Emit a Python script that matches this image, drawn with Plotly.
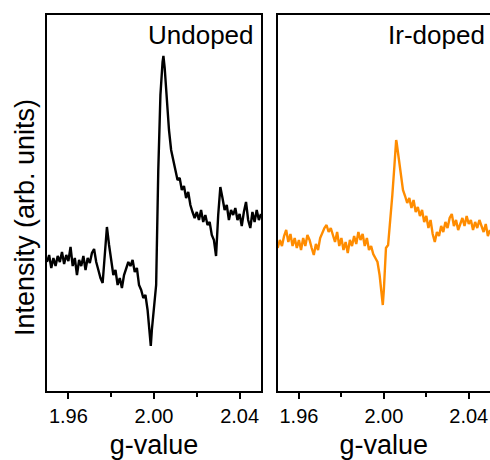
import numpy as np
import plotly.graph_objects as go

# g-value grid (0.001 steps) plus a couple of extra samples at the sharp extrema
g_grid = [round(1.95 + 0.001 * k, 3) for k in range(101)]
g_extra_undoped = [1.9985, 2.0044]
g_extra_irdoped = [1.9995, 2.0058]

# EPR intensity on the uniform grid (arb. units)
undoped_grid = [
    138, 145, 132, 142, 134, 144, 138, 148, 136, 145,
    139, 153, 134, 142, 125, 140, 134, 144, 130, 142,
    137, 147, 151, 138, 130, 122, 117, 150, 173, 155,
    138, 125, 130, 115, 122, 112, 125, 132, 138, 134,
    140, 128, 132, 115, 110, 102, 105, 90, 65, 70,
    95, 115, 230, 305, 338, 332, 300, 270, 250, 240,
    232, 220, 222, 210, 214, 202, 208, 195, 188, 182,
    188, 180, 190, 178, 185, 175, 178, 165, 160, 144,
    185, 213, 202, 190, 195, 180, 190, 185, 192, 180,
    186, 174, 188, 198, 180, 172, 188, 178, 190, 180,
    186,
]
undoped_extra = [54, 344]

irdoped_grid = [
    152, 160, 154, 164, 170, 158, 166, 154, 162, 152,
    160, 150, 162, 154, 165, 160, 152, 145, 156, 150,
    162, 168, 172, 175, 168, 172, 164, 158, 168, 154,
    162, 150, 158, 147, 160, 154, 164, 156, 168, 160,
    166, 154, 162, 150, 154, 146, 142, 138, 125, 102,
    110, 152, 155, 178, 205, 235, 258, 242, 223, 210,
    204, 197, 202, 192, 200, 188, 193, 184, 190, 178,
    184, 172, 180, 166, 158, 168, 164, 174, 168, 178,
    172, 182, 186, 174, 180, 170, 176, 182, 174, 184,
    176, 180, 170, 178, 172, 180, 174, 168, 176, 164,
    170,
]
irdoped_extra = [95, 260]

x_ticks = [1.96, 2.00, 2.04]
x_tick_text = ["1.96", "2.00", "2.04"]
x_minor = [1.98, 2.02]


def merged(g_main, y_main, g_add, y_add):
    g = np.array(g_main + g_add)
    y = np.array(y_main + y_add)
    order = np.argsort(g)
    return g[order], y[order]


g_u, y_u = merged(g_grid, undoped_grid, g_extra_undoped, undoped_extra)
g_i, y_i = merged(g_grid, irdoped_grid, g_extra_irdoped, irdoped_extra)

W, H = 490, 460
FONT = "Liberation Sans, Arial, sans-serif"

fig = go.Figure()
fig.add_trace(go.Scatter(x=g_u, y=y_u, mode="lines",
                         line=dict(color="black", width=2.4),
                         xaxis="x", yaxis="y", showlegend=False))
fig.add_trace(go.Scatter(x=g_i, y=y_i, mode="lines",
                         line=dict(color="#FF8C00", width=2.4),
                         xaxis="x2", yaxis="y2", showlegend=False))

ydom = [1 - 391 / H, 1 - 15 / H]
common_x = dict(
    range=[1.95, 2.05], tickmode="array", tickvals=x_ticks, ticktext=x_tick_text,
    ticks="outside", ticklen=6, tickwidth=2, tickcolor="black",
    minor=dict(tickmode="array", tickvals=x_minor, ticks="outside",
               ticklen=4, tickwidth=2, tickcolor="black"),
    showline=True, linecolor="black", linewidth=2, mirror=True,
    showgrid=False, zeroline=False,
    tickfont=dict(family=FONT, size=20, color="black"),
    title=dict(text="g-value", font=dict(family=FONT, size=27, color="black"),
               standoff=12),
)
common_y = dict(
    range=[9, 385], showticklabels=False, ticks="", showgrid=False,
    zeroline=False, showline=True, linecolor="black", linewidth=2,
    domain=ydom,
)

fig.update_layout(
    width=W, height=H,
    margin=dict(l=0, r=0, t=0, b=0),
    paper_bgcolor="white", plot_bgcolor="white",
    xaxis=dict(domain=[47 / W, 261 / W], anchor="y", **common_x),
    yaxis=dict(anchor="x", mirror=True, **common_y),
    xaxis2=dict(domain=[277.7 / W, 1.0], anchor="y2", **common_x),
    yaxis2=dict(anchor="x2", mirror=False, **common_y),
    annotations=[
        dict(text="Undoped", xref="paper", yref="paper",
             x=256 / W, y=1 - 18 / H, xanchor="right", yanchor="top",
             showarrow=False, font=dict(family=FONT, size=26, color="black")),
        dict(text="Ir-doped", xref="paper", yref="paper",
             x=487 / W, y=1 - 18 / H, xanchor="right", yanchor="top",
             showarrow=False, font=dict(family=FONT, size=26, color="black")),
        dict(text="Intensity (arb. units)", xref="paper", yref="paper",
             x=25 / W, y=1 - 218 / H, xanchor="center", yanchor="middle",
             textangle=-90, showarrow=False,
             font=dict(family=FONT, size=27, color="black")),
    ],
)

fig.write_html("out.html")
